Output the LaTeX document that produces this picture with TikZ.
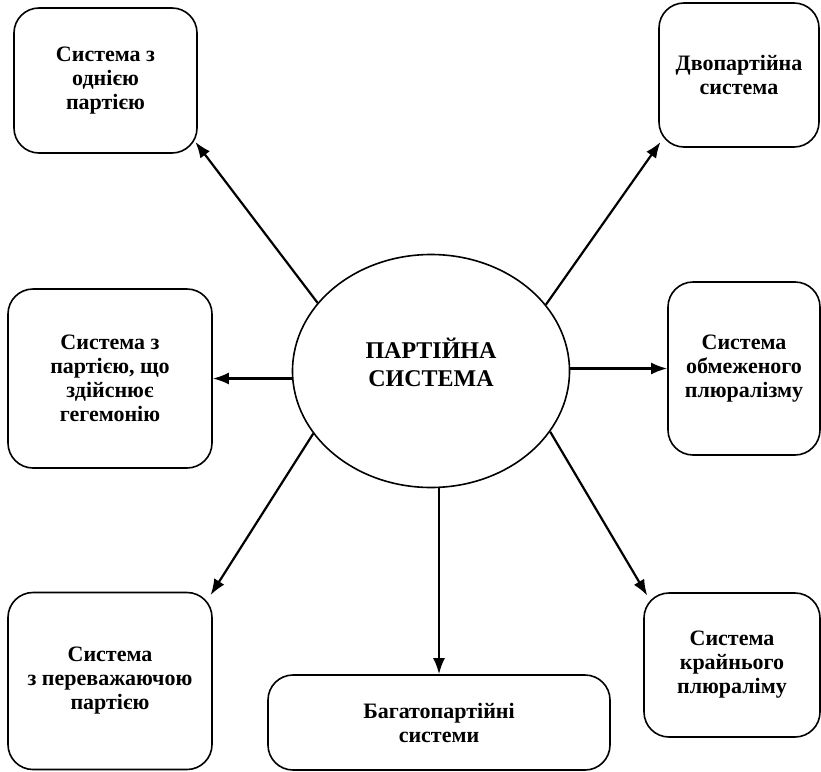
\documentclass[tikz,border=0pt]{standalone}
\usepackage{fontspec}
\setmainfont{Liberation Serif}
\usetikzlibrary{shapes.geometric,arrows.meta}

\tikzset{
	sysbox/.style={draw, line width=1.6pt, rounded corners=25pt, align=center,
		inner sep=2pt, font=\fontsize{22}{24}\selectfont\bfseries},
	arr/.style={line width=2.2pt, -{Latex[length=16pt,width=12pt]}}
}

\begin{document}
\begin{tikzpicture}[x=1pt, y=-1pt]
		\useasboundingbox (0,0) rectangle (821,771);

		\node[draw, ellipse, line width=1.6pt, minimum width=277pt, minimum height=233pt] (party) at (431,371) {};
		\node[align=center, font=\fontsize{24}{28}\selectfont\bfseries] (partytext) at ([yshift=9pt]party.center) {ПАРТІЙНА\\СИСТЕМА};

		\node[sysbox, minimum width=183pt, minimum height=145pt] (one) at (105.5,80.5) {Система з\\однією\\партією};
		\node[sysbox, minimum width=160pt, minimum height=144pt] (two) at (739,75) {Двопартійна\\система};
		\node[sysbox, minimum width=204pt, minimum height=179pt] (hegem) at (110,378.5) {Система з\\партією, що\\здійснює\\гегемонію};
		\node[sysbox, minimum width=152pt, minimum height=173pt] (limited) at (744,368.5) {Система\\обмеженого\\плюралізму};
		\node[sysbox, minimum width=204pt, minimum height=177pt] (predom) at (110,681) {Система\\з переважаючою\\партією};
		\node[sysbox, minimum width=342pt, minimum height=95pt] (multi) at (439,722.5) {Багатопартійні\\системи};
		\node[sysbox, minimum width=176pt, minimum height=144pt] (extreme) at (732,665) {Система\\крайнього\\плюраліму};

		\draw[arr, shorten >=-4pt] (party.149) -- (one.-35);
		\draw[arr, shorten >=-4pt] (party.30) -- (two.-139);
		\draw[arr] (party.west |- hegem.east) -- (hegem.east);
		\draw[arr] (party.east |- limited.west) -- (limited.west);
		\draw[arr, shorten >=-4pt] (party.208) -- (predom.41);
		\draw[arr] (multi.north |- party.south) -- (multi.north);
		\draw[arr, shorten >=-4pt] (party.-27) -- (extreme.140);
	\end{tikzpicture}
\end{document}
